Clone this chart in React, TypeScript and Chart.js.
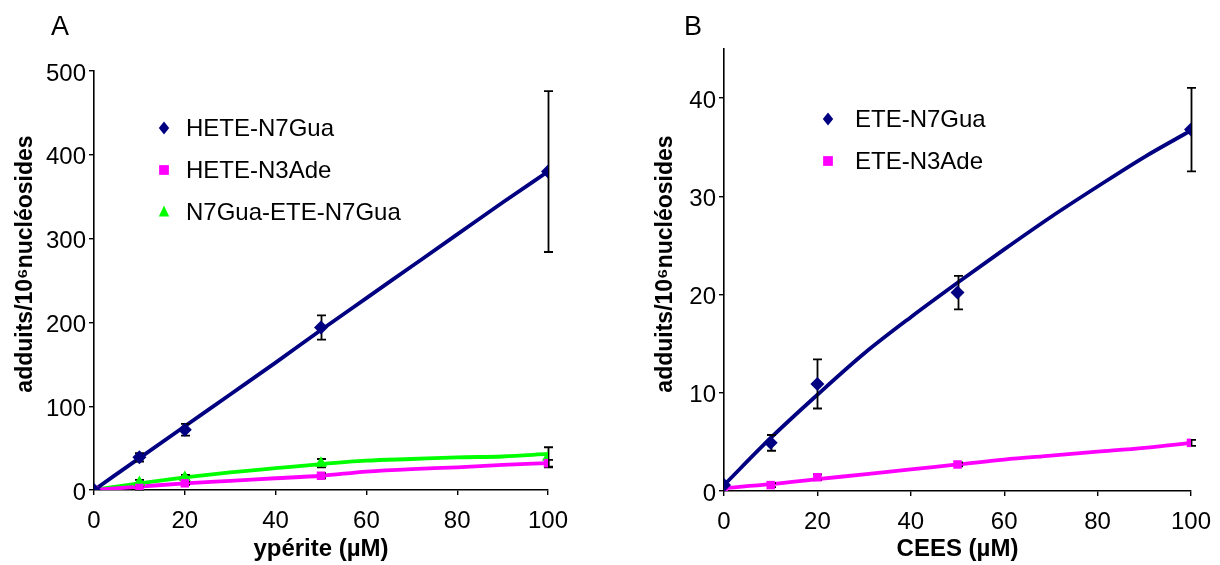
import React, { useEffect, useRef } from 'react';
import { Chart, registerables } from 'chart.js';

Chart.register(...registerables);

const FONT = '"Liberation Sans", Arial, Helvetica, sans-serif';

// ---------- Panel A (ypérite) ----------
const doseA = [0, 10, 20, 50, 100];
const heteN7Gua = [0, 39, 72, 194, 380];
const heteN7GuaErr = [0, 5, 7, 14.5, 96];
const heteN3Ade = [0, 2.4, 8, 17, 32];
const heteN3AdeErr = [0, 2, 2, 3, 4];
const n7GuaEteN7Gua = [0, 9, 15, 32, 39];
const n7GuaEteN7GuaErr = [0, 3, 3, 5, 12];

const fitDose = [0, 10, 20, 30, 40, 50, 60, 70, 80, 90, 100];
const heteN7GuaFit = [0, 38, 76, 114, 152, 191, 229, 267, 305, 343, 380];
const heteN3AdeFit = [0, 4, 8, 11, 14, 17, 22, 25, 27, 30, 32];
const n7GuaEteN7GuaFit = [0, 8, 15, 21, 26, 31, 35, 37, 39, 40, 43];

const xTicks = [0, 20, 40, 60, 80, 100];
const yTicksA = [0, 100, 200, 300, 400, 500];

// ---------- Panel B (CEES) ----------
const doseB = [0, 10, 20, 50, 100];
const eteN7Gua = [0.6, 4.9, 10.9, 20.2, 36.8];
const eteN7GuaErr = [0, 0.8, 2.5, 1.7, 4.25];
const eteN3Ade = [0.3, 0.6, 1.4, 2.7, 4.9];
const eteN3AdeErr = [0, 0.2, 0.3, 0.2, 0.3];

const eteN7GuaFit = [0.6, 5.4, 9.8, 14.0, 17.7, 21.2, 24.6, 27.9, 31.0, 34.0, 36.7];
const eteN3AdeFit = [0.3, 0.7, 1.2, 1.7, 2.2, 2.7, 3.2, 3.6, 4.0, 4.4, 4.9];

const yTicksB = [0, 10, 20, 30, 40];

const NAVY = '#000080';
const MAGENTA = '#FF00FF';
const GREEN = '#00FF00';

type Series = {
  label: string;
  color: string;
  style: string;
  x: number[];
  y: number[];
  err: number[];
  fitX: number[];
  fit: number[];
};

type PanelSpec = {
  letter: string;
  letterPos: [number, number];
  series: Series[];
  xTitle: string;
  yTitle: string;
  yTitlePos: [number, number];
  yMax: number;
  yTicks: number[];
  padding: { left: number; top: number; right: number; bottom: number };
  yWidth: number;
  xHeight: number;
  legend: { markerX: number; textX: number; ys: number[] };
};

function drawMarker(ctx: CanvasRenderingContext2D, style: string, x: number, y: number, r: number, color: string) {
  ctx.save();
  ctx.fillStyle = color;
  ctx.beginPath();
  if (style === 'rectRot') {
    ctx.moveTo(x, y - r);
    ctx.lineTo(x + r * 0.8, y);
    ctx.lineTo(x, y + r);
    ctx.lineTo(x - r * 0.8, y);
  } else if (style === 'rect') {
    const s = r * 0.75;
    ctx.rect(x - s, y - s, 2 * s, 2 * s);
  } else {
    ctx.moveTo(x, y - r);
    ctx.lineTo(x + r * 0.8, y + r * 0.7);
    ctx.lineTo(x - r * 0.8, y + r * 0.7);
  }
  ctx.closePath();
  ctx.fill();
  ctx.restore();
}

function buildConfig(spec: PanelSpec): any {
  const pointSets = spec.series.map((s) => ({
    label: s.label,
    data: s.x.map((xv, i) => ({ x: xv, y: s.y[i] })),
    errors: s.err,
    showLine: false,
    pointStyle: s.style,
    pointRadius: s.style === 'rect' ? 6 : 7,
    pointBackgroundColor: s.color,
    pointBorderColor: s.color,
    pointBorderWidth: 0,
    backgroundColor: s.color,
    borderColor: s.color,
  }));
  const fitSets = spec.series.map((s) => ({
    label: s.label + ' fit',
    data: s.fitX.map((xv, i) => ({ x: xv, y: s.fit[i] })),
    showLine: true,
    pointRadius: 0,
    borderColor: s.color,
    borderWidth: 3.8,
    cubicInterpolationMode: 'monotone',
    fill: false,
  }));
  const nPts = pointSets.length;

  const errorBars = {
    id: 'errorBars',
    afterDatasetDraw(chart: any, args: any) {
      if (args.index !== nPts) return;
      const ctx = chart.ctx;
      const ys = chart.scales.y;
      ctx.save();
      ctx.strokeStyle = '#000';
      ctx.lineWidth = 1.8;
      chart.data.datasets.forEach((d: any, i: number) => {
        if (!d.errors) return;
        const meta = chart.getDatasetMeta(i);
        meta.data.forEach((el: any, j: number) => {
          const e = d.errors[j];
          if (!e) return;
          const v = d.data[j].y;
          const t = ys.getPixelForValue(v + e);
          const b = ys.getPixelForValue(v - e);
          const cx = Math.round(el.x) + 0.5;
          ctx.beginPath();
          ctx.moveTo(cx, t);
          ctx.lineTo(cx, b);
          ctx.moveTo(cx - 4.5, t);
          ctx.lineTo(cx + 4.5, t);
          ctx.moveTo(cx - 4.5, b);
          ctx.lineTo(cx + 4.5, b);
          ctx.stroke();
        });
      });
      ctx.restore();
    },
  };

  const texts = {
    id: 'texts',
    afterDraw(chart: any) {
      const ctx = chart.ctx;
      ctx.save();
      ctx.fillStyle = '#000';
      // panel letter
      ctx.font = `27px ${FONT}`;
      ctx.textAlign = 'center';
      ctx.textBaseline = 'middle';
      ctx.fillText(spec.letter, spec.letterPos[0], spec.letterPos[1]);
      // y title
      ctx.save();
      ctx.translate(spec.yTitlePos[0], spec.yTitlePos[1]);
      ctx.rotate(-Math.PI / 2);
      ctx.font = `bold 23px ${FONT}`;
      ctx.fillText(spec.yTitle, 0, 0);
      ctx.restore();
      // legend
      ctx.font = `24px ${FONT}`;
      ctx.textAlign = 'left';
      spec.series.forEach((s, i) => {
        const y = spec.legend.ys[i];
        drawMarker(ctx, s.style, spec.legend.markerX, y, 6.5, s.color);
        ctx.fillStyle = '#000';
        ctx.fillText(s.label, spec.legend.textX, y + 1);
      });
      ctx.restore();
    },
  };

  const axisCommon = {
    type: 'linear',
    border: { display: true, color: '#000', width: 1.6 },
    grid: { drawOnChartArea: false, drawTicks: true, tickLength: 5, color: '#000', lineWidth: 1.4 },
  };

  return {
    type: 'scatter',
    data: { datasets: [...pointSets, ...fitSets] },
    options: {
      animation: false,
      responsive: false,
      devicePixelRatio: 1,
      layout: { padding: spec.padding },
      plugins: { legend: { display: false }, tooltip: { enabled: false } },
      scales: {
        x: {
          ...axisCommon,
          min: 0,
          max: 100,
          afterBuildTicks: (sc: any) => {
            sc.ticks = xTicks.map((v) => ({ value: v }));
          },
          afterFit: (sc: any) => {
            sc.height = spec.xHeight;
            sc.paddingRight = 0;
            sc.paddingLeft = 0;
          },
          ticks: { color: '#000', font: { family: FONT, size: 24 }, padding: 12, maxRotation: 0, autoSkip: false },
          title: {
            display: true,
            text: spec.xTitle,
            color: '#000',
            font: { family: FONT, size: 24, weight: 'bold' },
            padding: { top: 0, bottom: 1 },
          },
        },
        y: {
          ...axisCommon,
          min: 0,
          max: spec.yMax,
          afterBuildTicks: (sc: any) => {
            sc.ticks = spec.yTicks.map((v) => ({ value: v }));
          },
          afterFit: (sc: any) => {
            sc.width = spec.yWidth;
            sc.paddingTop = 0;
            sc.paddingBottom = 0;
          },
          ticks: { color: '#000', font: { family: FONT, size: 24 }, padding: 3, labelOffset: 3, autoSkip: false },
        },
      },
    },
    plugins: [errorBars, texts],
  };
}

const specA: PanelSpec = {
  letter: 'A',
  letterPos: [60, 28],
  series: [
    { label: 'HETE-N7Gua', color: NAVY, style: 'rectRot', x: doseA, y: heteN7Gua, err: heteN7GuaErr, fitX: fitDose, fit: heteN7GuaFit },
    { label: 'HETE-N3Ade', color: MAGENTA, style: 'rect', x: doseA, y: heteN3Ade, err: heteN3AdeErr, fitX: fitDose, fit: heteN3AdeFit },
    { label: 'N7Gua-ETE-N7Gua', color: GREEN, style: 'triangle', x: doseA, y: n7GuaEteN7Gua, err: n7GuaEteN7GuaErr, fitX: fitDose, fit: n7GuaEteN7GuaFit },
  ],
  xTitle: 'ypérite (µM)',
  yTitle: 'adduits/10⁶nucléosides',
  yTitlePos: [26, 264],
  yMax: 500,
  yTicks: yTicksA,
  padding: { left: 0, top: 71, right: 62, bottom: 0 },
  yWidth: 94,
  xHeight: 75,
  legend: { markerX: 164, textX: 186, ys: [128, 170, 212] },
};

const specB: PanelSpec = {
  letter: 'B',
  letterPos: [83, 28],
  series: [
    { label: 'ETE-N7Gua', color: NAVY, style: 'rectRot', x: doseB, y: eteN7Gua, err: eteN7GuaErr, fitX: fitDose, fit: eteN7GuaFit },
    { label: 'ETE-N3Ade', color: MAGENTA, style: 'rect', x: doseB, y: eteN3Ade, err: eteN3AdeErr, fitX: fitDose, fit: eteN3AdeFit },
  ],
  xTitle: 'CEES (µM)',
  yTitle: 'adduits/10⁶nucléosides',
  yTitlePos: [56, 264],
  yMax: 45,
  yTicks: yTicksB,
  padding: { left: 0, top: 49, right: 29, bottom: 0 },
  yWidth: 114,
  xHeight: 74,
  legend: { markerX: 218, textX: 245, ys: [119, 161] },
};

function Panel({ spec }: { spec: PanelSpec }) {
  const ref = useRef<HTMLCanvasElement | null>(null);
  useEffect(() => {
    if (!ref.current) return;
    const chart = new Chart(ref.current, buildConfig(spec));
    return () => chart.destroy();
  }, [spec]);
  return <canvas ref={ref} width={610} height={565} style={{ display: 'block', width: 610, height: 565 }} />;
}

export default function App() {
  return (
    <div style={{ position: 'fixed', left: 0, top: 0, width: 1220, height: 565, display: 'flex', background: '#fff' }}>
      <Panel spec={specA} />
      <Panel spec={specB} />
    </div>
  );
}
